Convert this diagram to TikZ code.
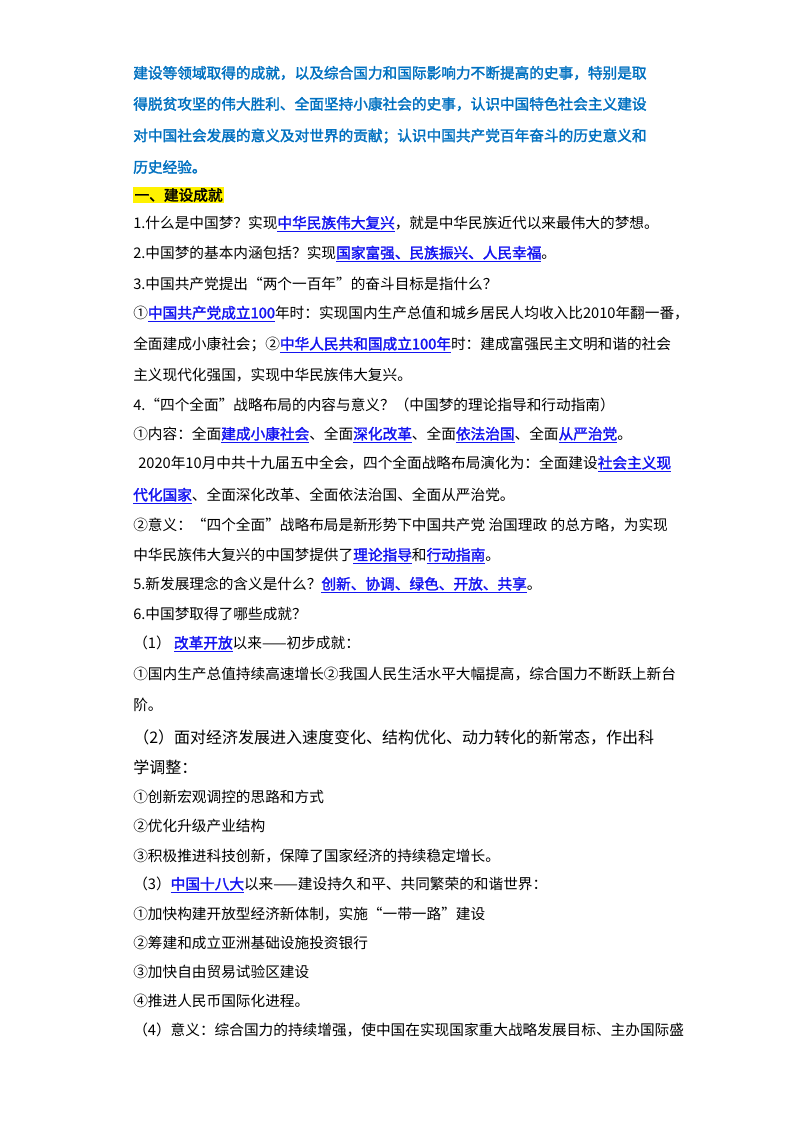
\documentclass[tikz,border=0pt]{standalone}
\usepackage{fontspec}
\setmainfont{Noto Sans CJK SC}[AutoFakeBold=2]
\usetikzlibrary{positioning}
\definecolor{aimblue}{RGB}{0,112,192}
\definecolor{kwblue}{RGB}{20,20,240}
\newcommand{\kw}[1]{\textcolor{kwblue}{\underline{\textbf{#1}}}}
\tikzset{
  line/.style={anchor=west, inner sep=0pt, font=\fontsize{11pt}{13pt}\selectfont},
  aim/.style={line, text=aimblue, font=\fontsize{11pt}{13pt}\selectfont\bfseries},
  title/.style={line, fill=yellow, inner sep=1pt, font=\fontsize{11pt}{13pt}\selectfont\bfseries},
}
\begin{document}
\begin{tikzpicture}[x=0.75pt,y=-0.75pt]
  \useasboundingbox (0,0) rectangle (800,1132);
  % aims
  \node[aim] (aim1) at (133,73) {建设等领域取得的成就，以及综合国力和国际影响力不断提高的史事，特别是取};
  \node[aim] (aim2) at (133,104) {得脱贫攻坚的伟大胜利、全面坚持小康社会的史事，认识中国特色社会主义建设};
  \node[aim] (aim3) at (133,136) {对中国社会发展的意义及对世界的贡献；认识中国共产党百年奋斗的历史意义和};
  \node[aim] (aim4) at (133,167) {历史经验。};
  \node[title] (head) at (133,195) {一、建设成就};
  % questions
  \node[line] (q1) at (133,224) {1.什么是中国梦？实现\kw{中华民族伟大复兴}，就是中华民族近代以来最伟大的梦想。};
  \node[line] (q2) at (133,254) {2.中国梦的基本内涵包括？实现\kw{国家富强、民族振兴、人民幸福}。};
  \node[line] (q3) at (133,284) {3.中国共产党提出“两个一百年”的奋斗目标是指什么？};
  \node[line] (q3a) at (133,314) {①\kw{中国共产党成立100}年时：实现国内生产总值和城乡居民人均收入比2010年翻一番，};
  \node[line] (q3b) at (133,345) {全面建成小康社会；②\kw{中华人民共和国成立100年}时：建成富强民主文明和谐的社会};
  \node[line] (q3c) at (133,375) {主义现代化强国，实现中华民族伟大复兴。};
  \node[line] (q4) at (133,405) {4.“四个全面”战略布局的内容与意义？（中国梦的理论指导和行动指南）};
  \node[line] (q4a) at (133,435) {①内容：全面\kw{建成小康社会}、全面\kw{深化改革}、全面\kw{依法治国}、全面\kw{从严治党}。};
  \node[line] (q4b) at (138,464) {2020年10月中共十九届五中全会，四个全面战略布局演化为：全面建设\kw{社会主义现}};
  \node[line] (q4c) at (133,496) {\kw{代化国家}、全面深化改革、全面依法治国、全面从严治党。};
  \node[line] (q4d) at (133,525) {②意义：“四个全面”战略布局是新形势下中国共产党 治国理政 的总方略，为实现};
  \node[line] (q4e) at (133,556) {中华民族伟大复兴的中国梦提供了\kw{理论指导}和\kw{行动指南}。};
  \node[line] (q5) at (133,585) {5.新发展理念的含义是什么？\kw{创新、协调、绿色、开放、共享}。};
  \node[line] (q6) at (133,614) {6.中国梦取得了哪些成就？};
  \node[line] (q61) at (133,644) {（1）\ \kw{改革开放}以来——初步成就：};
  \node[line] (q61a) at (133,674) {①国内生产总值持续高速增长②我国人民生活水平大幅提高，综合国力不断跃上新台};
  \node[line] (q61b) at (133,705) {阶。};
  \node[line, font=\fontsize{12pt}{14pt}\selectfont] (q62) at (133,737) {（2）面对经济发展进入速度变化、结构优化、动力转化的新常态，作出科};
  \node[line, font=\fontsize{12pt}{14pt}\selectfont] (q62a) at (133,767) {学调整：};
  \node[line] (q62b) at (133,797) {①创新宏观调控的思路和方式};
  \node[line] (q62c) at (133,826) {②优化升级产业结构};
  \node[line] (q62d) at (133,856) {③积极推进科技创新，保障了国家经济的持续稳定增长。};
  \node[line] (q63) at (133,885) {（3）\kw{中国十八大}以来——建设持久和平、共同繁荣的和谐世界：};
  \node[line] (q63a) at (133,914) {①加快构建开放型经济新体制，实施“一带一路”建设};
  \node[line] (q63b) at (133,943) {②筹建和成立亚洲基础设施投资银行};
  \node[line] (q63c) at (133,972) {③加快自由贸易试验区建设};
  \node[line] (q63d) at (133,1001) {④推进人民币国际化进程。};
  \node[line] (q64) at (133,1030) {（4）意义：综合国力的持续增强，使中国在实现国家重大战略发展目标、主办国际盛};
\end{tikzpicture}
\end{document}
